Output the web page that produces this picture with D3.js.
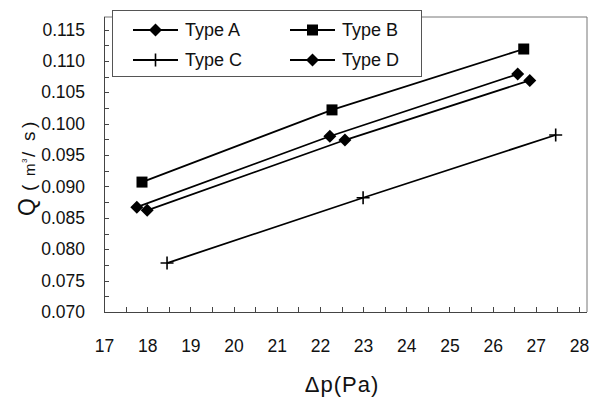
<!DOCTYPE html>
<html><head><meta charset="utf-8">
<script src="https://cdn.jsdelivr.net/npm/d3@7"></script>
<style>body{margin:0;background:#fff}svg{display:block}text{font-family:"Liberation Sans",Arial,sans-serif;fill:#111}</style>
</head><body><svg id="c" width="602" height="398"></svg>
<script>
const seriesNames = ["Type A", "Type B", "Type C", "Type D"];
const markers = ["diamond", "square", "plus", "diamond"];
const typeA_dp = [17.76, 22.23, 26.58];
const typeA_q  = [0.0867, 0.0980, 0.1079];
const typeB_dp = [17.88, 22.28, 26.72];
const typeB_q  = [0.0907, 0.1022, 0.1119];
const typeC_dp = [18.46, 23.0, 27.46];
const typeC_q  = [0.0778, 0.0882, 0.0982];
const typeD_dp = [18.0, 22.58, 26.86];
const typeD_q  = [0.0862, 0.0974, 0.1069];
const xTicks = [17,18,19,20,21,22,23,24,25,26,27,28];
const yTicks = [0.070,0.075,0.080,0.085,0.090,0.095,0.100,0.105,0.110,0.115];

const seriesX = [typeA_dp, typeB_dp, typeC_dp, typeD_dp];
const seriesY = [typeA_q, typeB_q, typeC_q, typeD_q];

const svg = d3.select("#c");
const L = 104, R = 587, T = 17, B = 312;
const x = d3.scaleLinear().domain([17, 28.185]).range([L, R]);
const y = d3.scaleLinear().domain([0.070, 0.117]).range([B, T]);

// frame (top/right)
svg.append("path").attr("d", `M${L},${T}H${R}V${B}`).attr("fill","none").attr("stroke","#777").attr("stroke-width",1);

// minor ticks
const xMinor = d3.range(17, 28.01, 0.5);
const yMinor = d3.range(0.070, 0.1171, 0.0025);
svg.append("g").selectAll("line").data(xMinor).join("line")
  .attr("x1", d=>Math.round(x(d))+0.5).attr("x2", d=>Math.round(x(d))+0.5)
  .attr("y1", B).attr("y2", B-5).attr("stroke","#444");
svg.append("g").selectAll("line").data(yMinor).join("line")
  .attr("y1", d=>Math.round(y(d))+0.5).attr("y2", d=>Math.round(y(d))+0.5)
  .attr("x1", L).attr("x2", L+5).attr("stroke","#444");

// axes
const xAxis = d3.axisBottom(x).tickValues(xTicks).tickSize(0).tickPadding(28).tickFormat(d3.format("d"));
const gx = svg.append("g").attr("transform", `translate(0,${B})`).call(xAxis);
gx.select(".domain").attr("stroke","#444").attr("d", `M${L},0.5H${R}`);
gx.selectAll("text").attr("font-size", 17.5).style("font-family","'Liberation Sans',Arial,sans-serif").attr("fill","#111");

const yAxis = d3.axisLeft(y).tickValues(yTicks).tickSize(0).tickPadding(19).tickFormat(d3.format(".3f"));
const gy = svg.append("g").attr("transform", `translate(${L},0)`).call(yAxis);
gy.select(".domain").attr("stroke","#444").attr("d", `M0.5,${B}V${T}`);
gy.selectAll("text").attr("font-size", 17.5).style("font-family","'Liberation Sans',Arial,sans-serif").attr("fill","#111");

// axis titles
svg.append("text").attr("x", 342).attr("y", 392).attr("text-anchor","middle")
  .attr("font-size", 22).attr("letter-spacing", 1).text("Δp(Pa)");
const yt = svg.append("text").attr("transform","translate(35,216) rotate(-90)");
yt.append("tspan").attr("x", 0).attr("font-size", 23).text("Q");
yt.append("tspan").attr("x", 25).attr("font-size", 19).text("(");
yt.append("tspan").attr("x", 40).attr("font-size", 15).text("m");
yt.append("tspan").attr("x", 53).attr("dy", -8).attr("font-size", 8).text("3");
yt.append("tspan").attr("x", 59).attr("dy", 8).attr("font-size", 19).text("/");
yt.append("tspan").attr("x", 75).attr("font-size", 19).text("s");
yt.append("tspan").attr("x", 88).attr("font-size", 19).text(")");

// marker drawing
function drawMarker(g, type, cx, cy) {
  if (type === "diamond") {
    const s = 6.5;
    g.append("path").attr("d", `M${cx},${cy-s}L${cx+s},${cy}L${cx},${cy+s}L${cx-s},${cy}Z`).attr("fill","#000");
  } else if (type === "square") {
    const s = 5.5;
    g.append("rect").attr("x", cx-s).attr("y", cy-s).attr("width", 2*s).attr("height", 2*s).attr("fill","#000");
  } else {
    const s = 6.5;
    g.append("path").attr("d", `M${cx-s},${cy}H${cx+s}M${cx},${cy-s}V${cy+s}`).attr("stroke","#000").attr("stroke-width",1.6).attr("fill","none");
  }
}

const line = d3.line().x(d=>x(d[0])).y(d=>y(d[1]));
seriesNames.forEach((name, i) => {
  const pts = seriesX[i].map((v, j) => [v, seriesY[i][j]]);
  const g = svg.append("g");
  g.append("path").attr("d", line(pts)).attr("fill","none").attr("stroke","#000").attr("stroke-width",1.8);
  pts.forEach(p => drawMarker(g, markers[i], x(p[0]), y(p[1])));
});

// legend
const lg = svg.append("g");
lg.append("rect").attr("x", 112.5).attr("y", 10.5).attr("width", 309).attr("height", 66)
  .attr("fill","#fff").attr("stroke","#555").attr("stroke-width",1);
const legPos = [[133, 30], [290, 30], [133, 60], [290, 60]];
seriesNames.forEach((name, i) => {
  const [lx, ly] = legPos[i];
  lg.append("line").attr("x1", lx).attr("x2", lx+45).attr("y1", ly).attr("y2", ly).attr("stroke","#000").attr("stroke-width",1.8);
  drawMarker(lg, markers[i], lx+22.5, ly);
  lg.append("text").attr("x", lx+52).attr("y", ly).attr("dy","0.35em").attr("font-size", 18).text(name);
});
</script></body></html>
